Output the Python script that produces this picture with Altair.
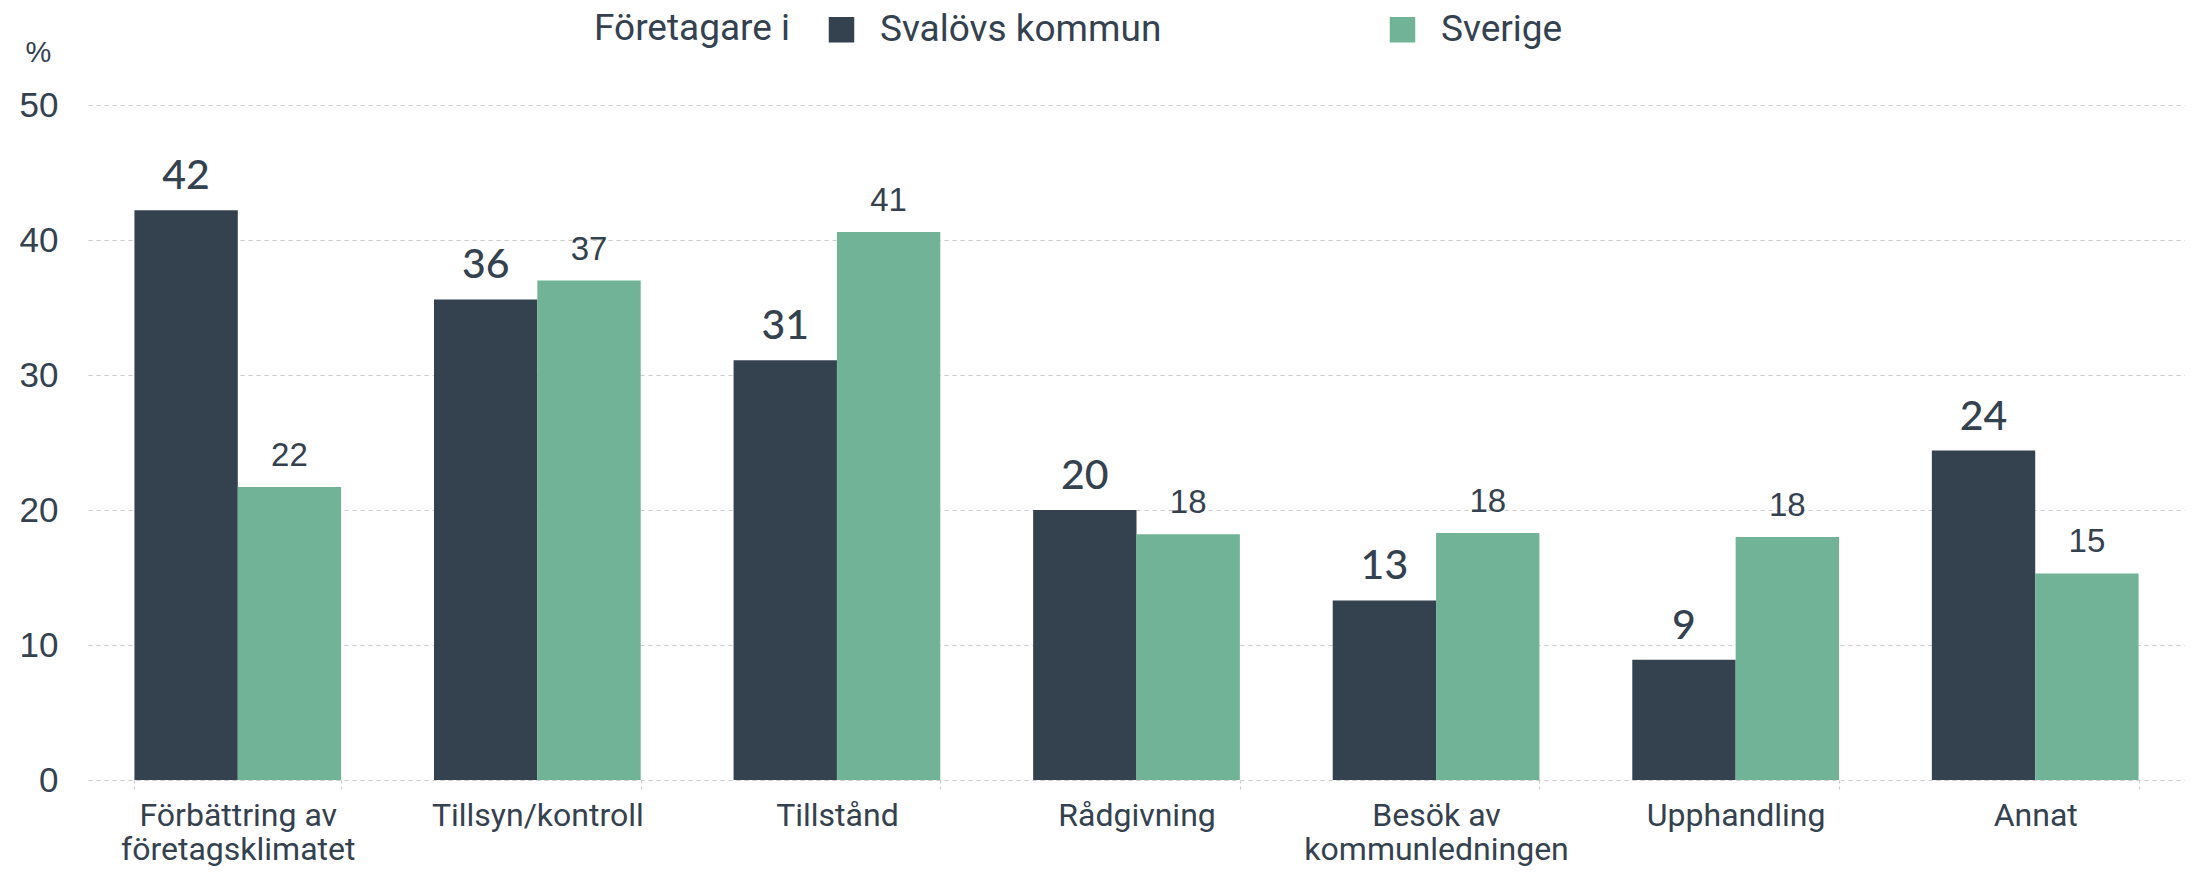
import altair as alt
import pandas as pd

categories = ["Förbättring av\nföretagsklimatet", "Tillsyn/kontroll", "Tillstånd", "Rådgivning",
              "Besök av\nkommunledningen", "Upphandling", "Annat"]
series = ["Svalövs kommun", "Sverige"]
svalov = [42.2, 35.6, 31.1, 20.0, 13.3, 8.9, 24.4]
sverige = [21.7, 37.0, 40.6, 18.2, 18.3, 18.0, 15.3]

rows = []
for i, c in enumerate(categories):
    rows.append({"cat": c, "series": series[0], "value": svalov[i], "order": 0})
    rows.append({"cat": c, "series": series[1], "value": sverige[i], "order": 1})
df = pd.DataFrame(rows)

DARK = "#34414f"
GREEN = "#71b396"
NARROW = "Roboto, sans-serif"
ARIAL = "Liberation Sans, Arial, sans-serif"

x = alt.X("cat:N", sort=categories, title=None,
          scale=alt.Scale(paddingInner=0.31, paddingOuter=0.155),
          axis=alt.Axis(labelAngle=0, labelFont=NARROW, labelFontSize=32, labelColor=DARK,
                        labelExpr="split(datum.label, '\\n')", labelLineHeight=34,
                        labelPadding=8, labelBaseline="top", labelLimit=0, domain=False,
                        tickBand="extent", ticks=True, tickColor="#cccccc", tickSize=12,
                        tickDash=[3, 3], tickWidth=1.2, grid=False))
xoff = alt.XOffset("series:N", sort=series)
y = alt.Y("value:Q", scale=alt.Scale(domain=[0, 50]), title="%",
          axis=alt.Axis(values=[0, 10, 20, 30, 40, 50], labelFont=ARIAL, labelFontSize=35,
                        labelColor=DARK, labelPadding=30, ticks=False, domain=False,
                        grid=True, gridColor="#cccccc", gridDash=[4, 4], gridWidth=1.2,
                        titleAngle=0, titleFont=ARIAL, titleFontSize=29, titleColor=DARK,
                        titleFontWeight="normal", titleX=-50, titleY=-38, titleAlign="center"))

color = alt.Color("series:N", sort=series, scale=alt.Scale(domain=series, range=[DARK, GREEN]),
                  legend=alt.Legend(title="Företagare i", orient="none", legendX=506, legendY=-94,
                                    direction="horizontal", columns=2, columnPadding=222,
                                    titleOrient="left", titleFont=NARROW, titleFontSize=37,
                                    titleFontWeight="normal", titleColor=DARK, titlePadding=32,
                                    titleLimit=0, labelLimit=0,
                                    labelFont=NARROW, labelFontSize=37, labelColor=DARK,
                                    labelOffset=20, symbolType="square", symbolSize=650,
                                    symbolStrokeWidth=0))

bars = alt.Chart(df).mark_bar().encode(x=x, xOffset=xoff, y=y, color=color)

lab1 = alt.Chart(df).transform_filter(alt.datum.series == series[0]).mark_text(
    font="Lato, sans-serif", fontSize=41, fontWeight=500, color=DARK, baseline="bottom", dy=-12
).encode(x=x, xOffset=xoff, y="value:Q", text=alt.Text("value:Q", format=".0f"))

lab2 = alt.Chart(df).transform_filter(alt.datum.series == series[1]).mark_text(
    font=ARIAL, fontSize=33, color=DARK, baseline="bottom", dy=-14
).encode(x=x, xOffset=xoff, y="value:Q", text=alt.Text("value:Q", format=".0f"))

chart = alt.layer(bars, lab1, lab2).properties(
    width=2097, height=675,
    padding={"left": 80, "top": 97, "right": 0, "bottom": 86},
    autosize=alt.AutoSizeParams(type="none"),
).configure_view(stroke=None)

chart.save("out.html", embed_options={"renderer": "svg", "actions": False})
